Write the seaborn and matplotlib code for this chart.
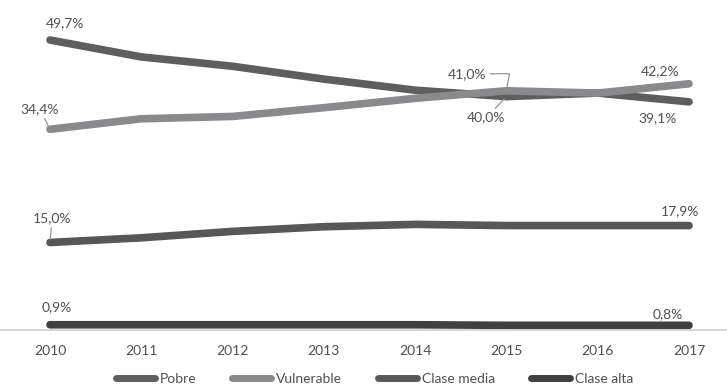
import matplotlib
matplotlib.use("Agg")
import matplotlib.pyplot as plt
import seaborn as sns
import pandas as pd

years = [2010, 2011, 2012, 2013, 2014, 2015, 2016, 2017]
pobre = [49.7, 46.8, 45.2, 43.0, 41.1, 40.0, 40.6, 39.1]
vulnerable = [34.4, 36.2, 36.6, 38.1, 39.7, 41.0, 40.6, 42.2]
clase_media = [15.0, 15.8, 16.9, 17.7, 18.1, 17.9, 17.9, 17.9]
clase_alta = [0.9, 0.9, 0.9, 0.9, 0.9, 0.8, 0.8, 0.8]
series_names = ["Pobre", "Vulnerable", "Clase media", "Clase alta"]
colors = ["#5e5e5e", "#8a8a8c", "#575757", "#404040"]

rows = []
for name, vals in zip(series_names, [pobre, vulnerable, clase_media, clase_alta]):
    for y, v in zip(years, vals):
        rows.append({"Año": y, "Valor": v, "Serie": name})
df = pd.DataFrame(rows)

sns.set_theme(style="white")
plt.rcParams["font.family"] = ["Lato", "DejaVu Sans"]
txt = "#505050"

fig = plt.figure(figsize=(7.27, 3.85), dpi=100)
ax = fig.add_axes([0, (385 - 330) / 385, 1, 330 / 385])
sns.lineplot(data=df, x="Año", y="Valor", hue="Serie", palette=colors,
             hue_order=series_names, linewidth=5.5, ax=ax, legend=True)
for ln in ax.get_lines():
    ln.set_solid_capstyle("round")

ax.set_xlim(2010 - 50 / 91.29, 2017 + 38 / 91.29)
ax.set_ylim(0, 330 / 5.835)
ax.set_xticks(years)
ax.set_xticklabels([str(y) for y in years], color=txt, fontsize=10)
ax.tick_params(axis="x", length=0, pad=11)
ax.set_yticks([])
ax.set_xlabel("")
ax.set_ylabel("")
for s in ["top", "right", "left"]:
    ax.spines[s].set_visible(False)
ax.spines["bottom"].set_color("#d0d0d0")
ax.spines["bottom"].set_linewidth(1.2)


def lab(x, y, dx, dy, arrow=None):
    s = f"{y:.1f}%".replace(".", ",")
    kw = {}
    if arrow is not None:
        kw["arrowprops"] = dict(arrowstyle="-", color="#8a8a8a", lw=0.8,
                                shrinkA=0, shrinkB=2, connectionstyle=arrow)
    ax.annotate(s, xy=(x, y), xytext=(dx, dy), textcoords="offset pixels",
                ha="center", va="center", fontsize=10, color=txt, **kw)


lab(years[0], pobre[0], 15, 17)
lab(years[0], vulnerable[0], -10, 20, "arc3")
lab(years[0], clase_media[0], 2, 24, "arc3")
lab(years[0], clase_alta[0], 7, 18)
lab(years[5], vulnerable[5], -39, 17, "angle,angleA=0,angleB=80,rad=0")
lab(years[5], pobre[5], -20, -21, "arc3")
lab(years[-1], vulnerable[-1], -29, 13)
lab(years[-1], pobre[-1], -31, -16)
lab(years[-1], clase_media[-1], -9, 14)
lab(years[-1], clase_alta[-1], -21, 11)

leg = ax.legend(loc="center", bbox_to_anchor=(0.515, -49 / 330),
                bbox_transform=ax.transAxes, ncol=4, frameon=False,
                handlelength=2.8, handletextpad=0.35, columnspacing=2.6,
                fontsize=10)
for t in leg.get_texts():
    t.set_color(txt)
for h in leg.legend_handles:
    h.set_linewidth(5)
    h.set_solid_capstyle("round")

fig.savefig("out.png", dpi=100)
